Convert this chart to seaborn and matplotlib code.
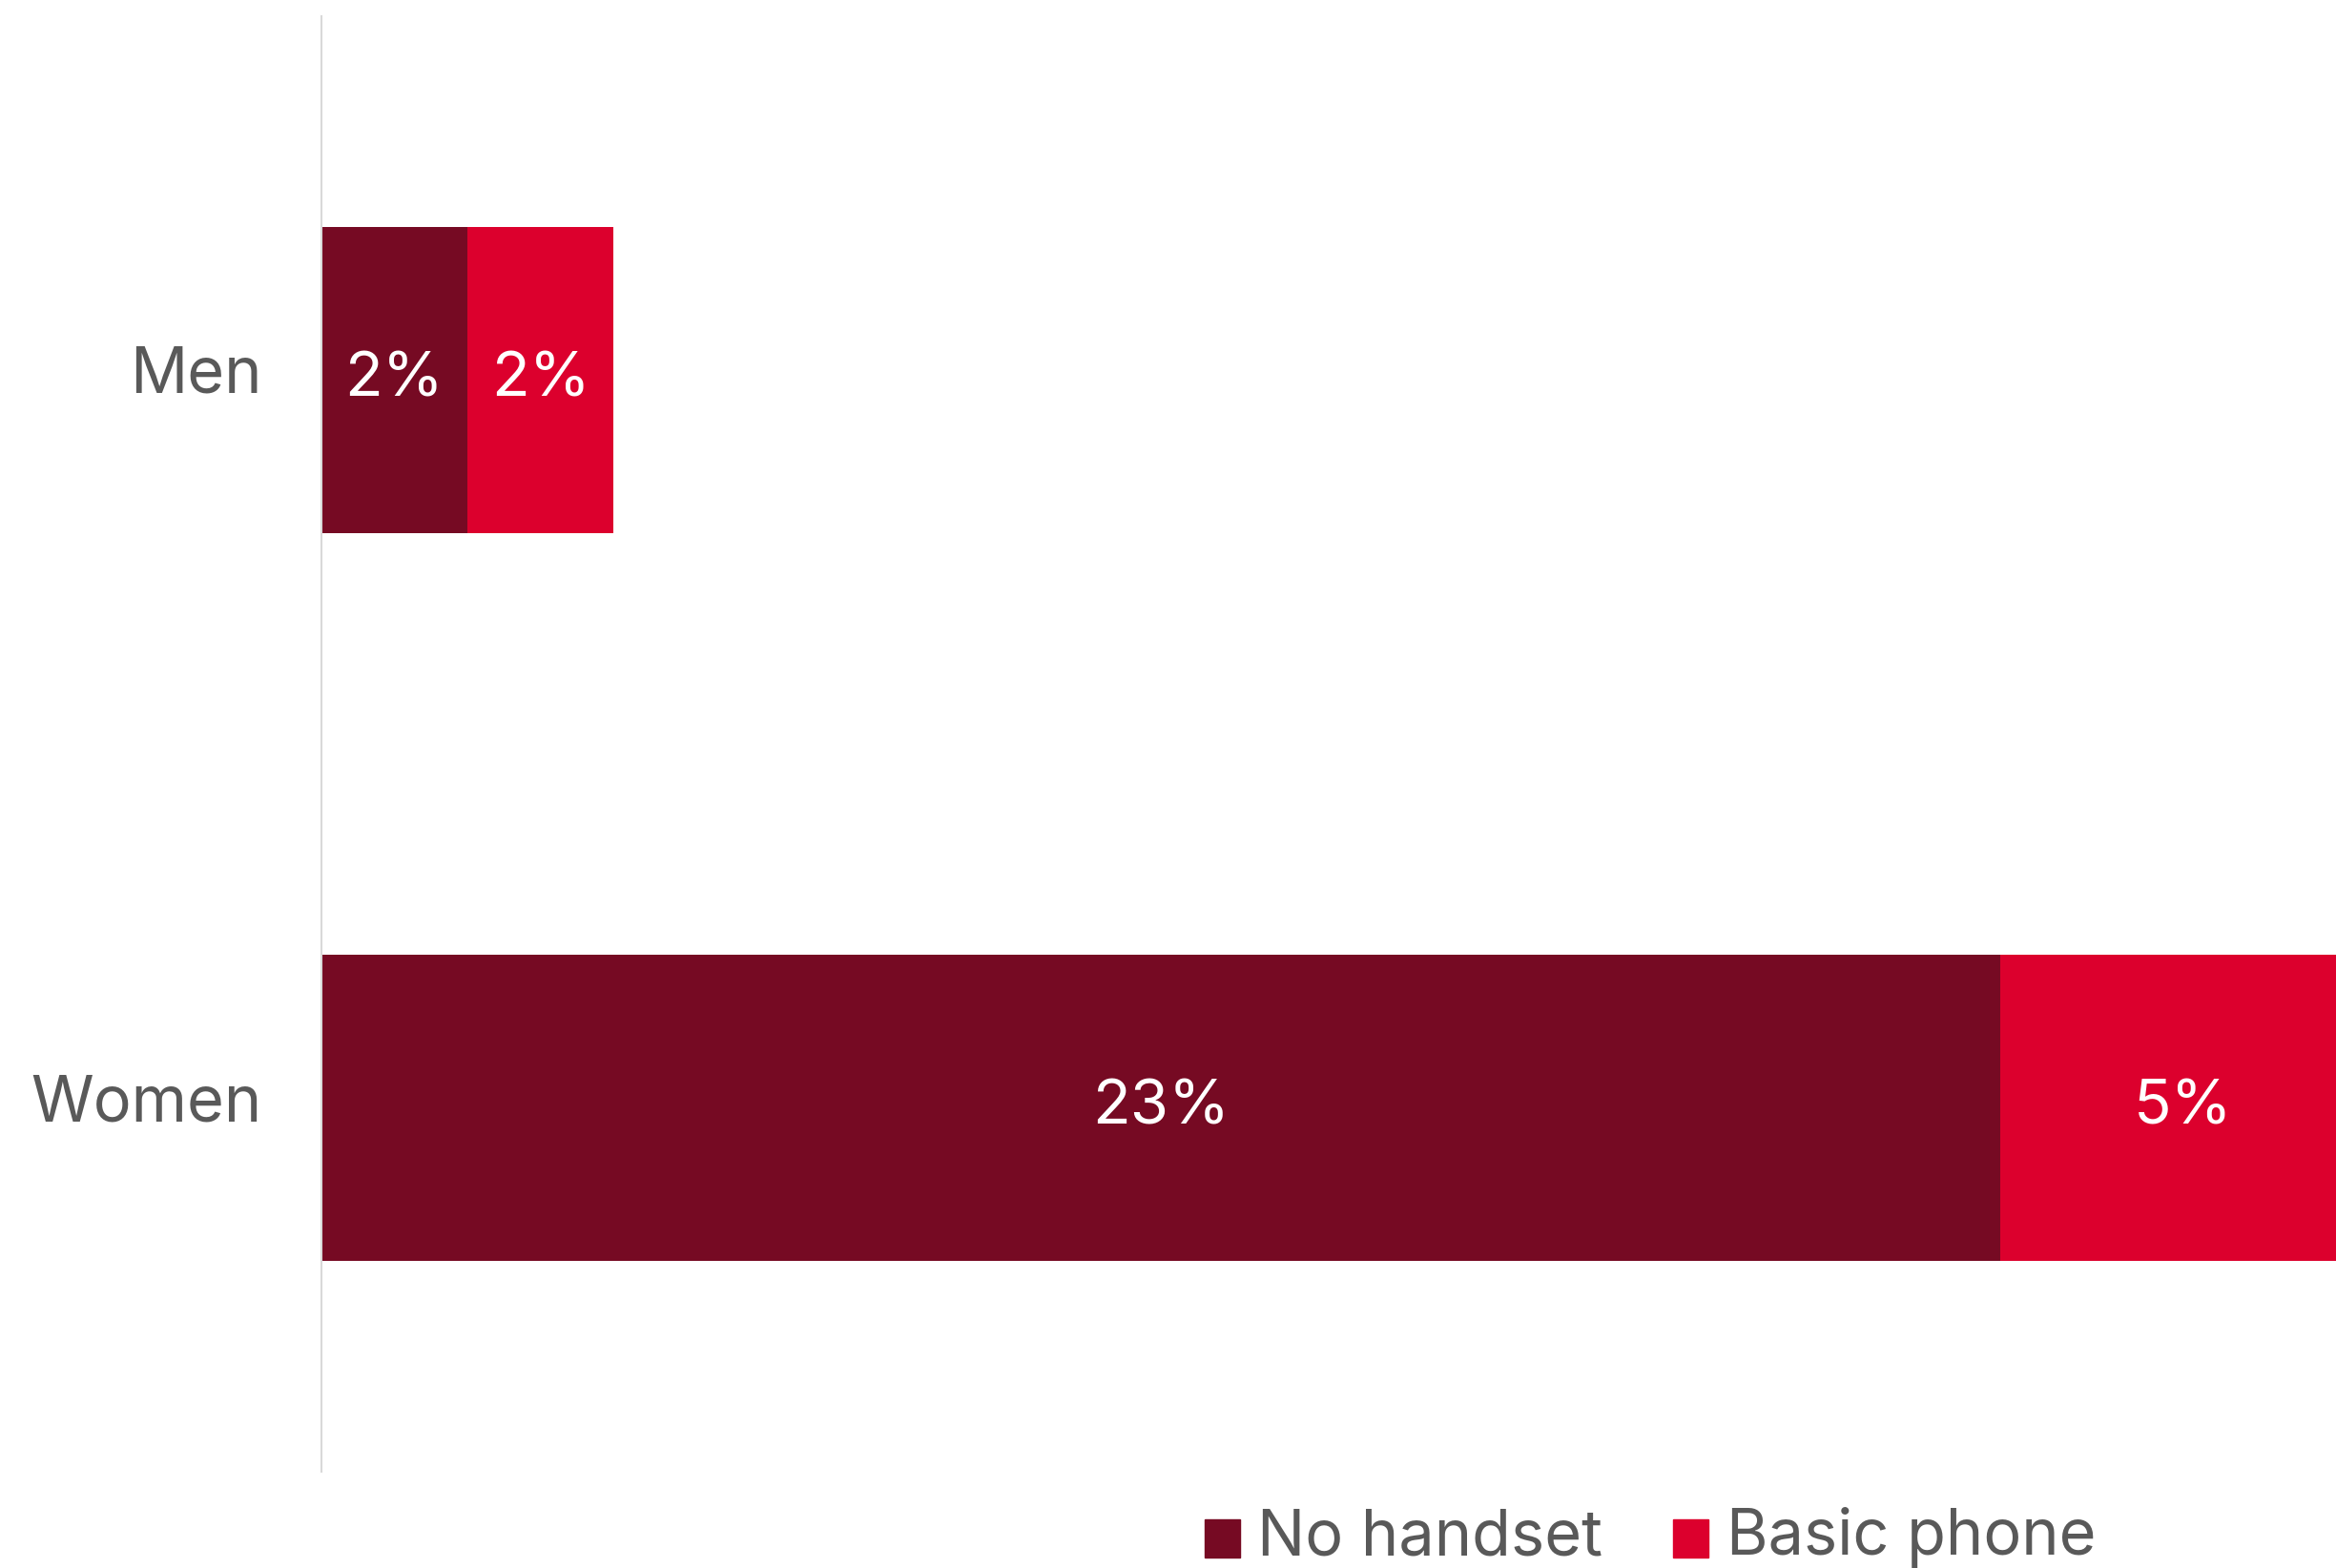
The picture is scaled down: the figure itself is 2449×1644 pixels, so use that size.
import matplotlib
matplotlib.use("Agg")
import matplotlib.pyplot as plt
import matplotlib.patches as mpatches
from matplotlib.legend_handler import HandlerPatch
from matplotlib.transforms import ScaledTranslation
import seaborn as sns
import pandas as pd

categories = ["Men", "Women"]
no_handset = [2, 23]
basic_phone = [2, 5]
series_names = ["No handset", "Basic phone"]
colors = ["#760A23", "#DC002D"]

sns.set_theme(style="white")
plt.rcParams["font.family"] = ["Inter", "DejaVu Sans"]

df = pd.DataFrame({"cat": categories, "no": no_handset, "basic": basic_phone})
df["total"] = df["no"] + df["basic"]

fig = plt.figure(figsize=(24.49, 16.44), dpi=100)
ax = fig.add_axes([337 / 2449, 1 - 1543 / 1644, 1 - 337 / 2449, (1543 - 17) / 1644])

sns.barplot(data=df, x="total", y="cat", color=colors[1], width=0.42,
            linewidth=0, saturation=1, ax=ax, orient="h")
sns.barplot(data=df, x="no", y="cat", color=colors[0], width=0.42,
            linewidth=0, saturation=1, ax=ax, orient="h")

ax.set_xlim(0, 27.6)
ax.set_ylim(1.5, -0.5)

for i, (a, b) in enumerate(zip(no_handset, basic_phone)):
    ax.text(a / 2, i, f"{a}%", ha="center", va="center", color="white", fontsize=47)
    ax.text(a + b / 2, i, f"{b}%", ha="center", va="center", color="white",
            fontsize=47, clip_on=False)

ax.set_xlabel("")
ax.set_ylabel("")
ax.set_xticks([])
ax.tick_params(axis="y", length=0, pad=45, labelsize=48, labelcolor="#595959")
offset = ScaledTranslation(0, 0.11, fig.dpi_scale_trans)
for lab in ax.get_yticklabels():
    lab.set_transform(lab.get_transform() + offset)
for s in ["top", "right", "bottom"]:
    ax.spines[s].set_visible(False)
ax.spines["left"].set_color("#D9D9D9")
ax.spines["left"].set_linewidth(1.5)


def low_square(legend, orig_handle, xdescent, ydescent, width, height, fontsize):
    return mpatches.Rectangle((-xdescent, -ydescent - 5), width, height)


handles = [mpatches.Patch(color=c, label=n) for c, n in zip(colors, series_names)]
fig.legend(handles=handles, loc="center left", bbox_to_anchor=(1263 / 2449, 1 - 1612 / 1644),
           ncol=2, frameon=False, fontsize=48, labelcolor="#595959",
           handlelength=0.55, handleheight=0.55, handletextpad=0.28,
           columnspacing=1.11, borderpad=0, borderaxespad=0,
           handler_map={mpatches.Patch: HandlerPatch(patch_func=low_square)})

fig.savefig("out.png", dpi=100, facecolor="white")
